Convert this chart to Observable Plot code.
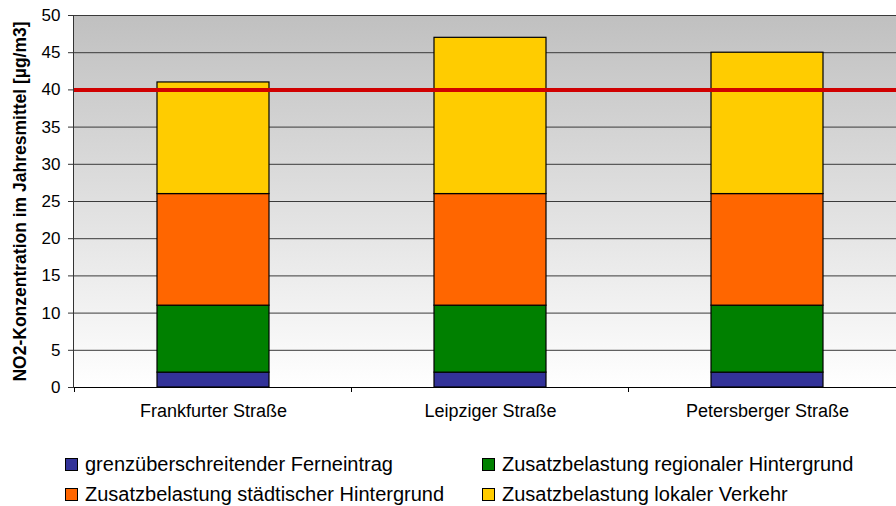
<!DOCTYPE html>
<html>
<head>
<meta charset="utf-8">
<script src="https://cdn.jsdelivr.net/npm/d3@7"></script>
<script src="https://cdn.jsdelivr.net/npm/@observablehq/plot@0.6"></script>
<style>
  html, body { margin: 0; padding: 0; background: #fff; }
  #wrap { position: relative; width: 896px; height: 506px; overflow: hidden; font-family: "Liberation Sans", Arial, sans-serif; }
  .leg { position: absolute; font-size: 20px; line-height: 20px; color: #000; white-space: nowrap; }
  .sw { position: absolute; width: 13px; height: 13px; border: 1px solid #000; box-sizing: border-box; }
</style>
</head>
<body>
<div id="wrap"><div id="chart"></div></div>
<script>
const categories = ["Frankfurter Straße", "Leipziger Straße", "Petersberger Straße"];
const seriesNames = [
  "grenzüberschreitender Ferneintrag",
  "Zusatzbelastung regionaler Hintergrund",
  "Zusatzbelastung städtischer Hintergrund",
  "Zusatzbelastung lokaler Verkehr"
];
const seriesColors = ["#333399", "#008000", "#ff6600", "#ffcc00"];
const ferneintrag = [2, 2, 2];
const regional = [9, 9, 9];
const staedtisch = [15, 15, 15];
const verkehr = [15, 21, 19];
const grenzwert = [40];
const yTicks = [0, 5, 10, 15, 20, 25, 30, 35, 40, 45, 50];
const yTitle = "NO2-Konzentration im Jahresmittel [µg/m3]";

const seriesValues = [ferneintrag, regional, staedtisch, verkehr];
const rows = [];
seriesNames.forEach((s, si) => categories.forEach((c, ci) => rows.push({cat: c, series: s, order: si, value: seriesValues[si][ci]})));

// small tick marks on the category boundaries below the x axis
function categoryTicks(index, scales, values, dimensions) {
  const x = scales.x;
  const bw = x.bandwidth();
  const step = x(categories[1]) - x(categories[0]);
  const y0 = scales.y(0);
  const g = d3.create("svg:g");
  const bounds = categories.map(c => x(c) + bw / 2 - step / 2);
  bounds.push(x(categories[categories.length - 1]) + bw / 2 + step / 2);
  for (const b of bounds) {
    g.append("line").attr("x1", b).attr("x2", b).attr("y1", y0).attr("y2", y0 + 5).attr("stroke", "#000");
  }
  return g.node();
}

const chart = Plot.plot({
  width: 896,
  height: 440,
  marginTop: 15,
  marginBottom: 53,
  marginLeft: 73,
  marginRight: -10,
  style: {fontFamily: "'Liberation Sans', Arial, sans-serif", fontSize: "17px", color: "#000", background: "transparent", overflow: "hidden"},
  x: {domain: categories, paddingInner: 0.596, paddingOuter: 0.298, label: null},
  y: {domain: [0, 50], label: null},
  color: {domain: seriesNames, range: seriesColors},
  marks: [
    Plot.frame({fill: "url(#bggrad)", stroke: null}),
    Plot.ruleY(yTicks.filter(d => d > 0), {stroke: "#3a3a3a", strokeWidth: 1}),
    Plot.barY(rows, Plot.stackY({order: "order"}, {x: "cat", y: "value", fill: "series", stroke: "#000", strokeWidth: 1.2})),
    Plot.ruleY(grenzwert, {stroke: "#d00000", strokeWidth: 4}),
    Plot.ruleY([0], {stroke: "#000", strokeWidth: 1.2}),
    Plot.frame({anchor: "left", stroke: "#333"}),
    categoryTicks,
    Plot.axisY({ticks: yTicks, tickSize: 5, tickPadding: 8, label: null, stroke: "#333", fontSize: 17}),
    Plot.axisX({tickSize: 0, tickPadding: 17, label: null, fontSize: 18}),
    Plot.text([yTitle], {frameAnchor: "left", rotate: -90, dx: -53, textAnchor: "middle", fontWeight: "bold", fontSize: 17.5})
  ]
});

const svg = d3.select(chart);
const defs = svg.insert("defs", ":first-child");
const g = defs.append("linearGradient").attr("id", "bggrad").attr("x1", 0).attr("y1", 0).attr("x2", 0).attr("y2", 1);
g.append("stop").attr("offset", "0%").attr("stop-color", "#c0c0c0");
g.append("stop").attr("offset", "100%").attr("stop-color", "#ffffff");

document.getElementById("chart").appendChild(chart);

const wrap = document.getElementById("wrap");
const legPos = [[65, 454], [482, 454], [65, 484], [482, 484]];
seriesNames.forEach((s, i) => {
  const [x, y] = legPos[i];
  const sw = document.createElement("div");
  sw.className = "sw";
  sw.style.left = x + "px";
  sw.style.top = (y + 4) + "px";
  sw.style.background = seriesColors[i];
  wrap.appendChild(sw);
  const t = document.createElement("div");
  t.className = "leg";
  t.style.left = (x + 20) + "px";
  t.style.top = y + "px";
  t.textContent = s;
  wrap.appendChild(t);
});
</script>
</body>
</html>
